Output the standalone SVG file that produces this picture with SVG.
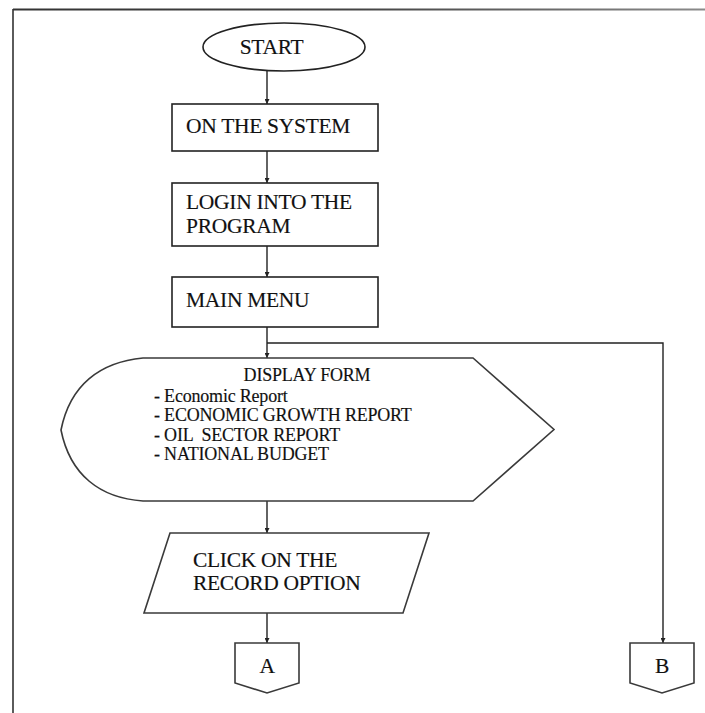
<svg xmlns="http://www.w3.org/2000/svg" width="705" height="713" viewBox="0 0 705 713">
  <style>
    .shape { fill: #fff; stroke: #222; stroke-width: 1.6; }
    .soft { fill: #fff; stroke: #3a3a3a; stroke-width: 1.6; }
    text { font-family: 'Liberation Serif', 'Times New Roman', Times, serif; fill: #111; stroke: #111; stroke-width: 0.15; }
    .lbl { font-size: 21.5px; letter-spacing: -0.3px; }
    .list { font-size: 18px; letter-spacing: -0.2px; }
    .wire { fill: none; stroke: #222; stroke-width: 1.4; }
  </style>
  <defs>
    <marker id="arrow" viewBox="0 0 10 10" refX="10" refY="5" markerWidth="5" markerHeight="5" markerUnits="userSpaceOnUse" orient="auto">
      <path d="M0,0 L10,5 L0,10 Z" fill="#222"/>
    </marker>
    <linearGradient id="frameTop" gradientUnits="userSpaceOnUse" x1="13" y1="0" x2="705" y2="0">
      <stop offset="0" stop-color="#333"/>
      <stop offset="0.5" stop-color="#444"/>
      <stop offset="1" stop-color="#8a8a8a"/>
    </linearGradient>
  </defs>

  <rect width="705" height="713" fill="#fff"/>

  <!-- page frame -->
  <g id="frame">
    <line x1="13" y1="9.5" x2="705" y2="9.5" stroke="url(#frameTop)" stroke-width="2"/>
    <line x1="13" y1="9" x2="13" y2="713" stroke="#333" stroke-width="1.6"/>
  </g>

  <!-- connectors -->
  <g id="connectors" class="wire">
    <line x1="267" y1="71" x2="267" y2="104" marker-end="url(#arrow)"/>
    <line x1="267" y1="151" x2="267" y2="183" marker-end="url(#arrow)"/>
    <line x1="267" y1="246" x2="267" y2="277" marker-end="url(#arrow)"/>
    <line x1="267" y1="327" x2="267" y2="358" marker-end="url(#arrow)"/>
    <polyline points="267,343 663,343 663,643" marker-end="url(#arrow)"/>
    <line x1="267" y1="501" x2="267" y2="533" marker-end="url(#arrow)"/>
    <line x1="267" y1="613" x2="267" y2="643" marker-end="url(#arrow)"/>
  </g>

  <g id="start">
    <ellipse class="shape" cx="284" cy="47" rx="81" ry="24"/>
    <text class="lbl" x="271.5" y="54" text-anchor="middle">START</text>
  </g>

  <g id="on-system">
    <rect class="shape" x="172" y="104" width="206" height="47"/>
    <text class="lbl" x="186" y="133">ON THE SYSTEM</text>
  </g>

  <g id="login">
    <rect class="shape" x="172" y="183" width="206" height="63"/>
    <text class="lbl" x="186" y="209">LOGIN INTO THE</text>
    <text class="lbl" x="186" y="233">PROGRAM</text>
  </g>

  <g id="main-menu">
    <rect class="shape" x="172" y="277" width="206" height="50"/>
    <text class="lbl" x="186" y="307">MAIN MENU</text>
  </g>

  <g id="display-form">
    <path class="soft" d="M143,358 L473,358 L554,429.5 L473,501 L143,501 C100,498 70,475 61,430 C70,385 100,362 143,358 Z"/>
    <text class="list" x="307" y="381" text-anchor="middle">DISPLAY FORM</text>
    <text class="list" x="154" y="402">- Economic Report</text>
    <text class="list" x="154" y="421">- ECONOMIC GROWTH REPORT</text>
    <text class="list" x="154" y="441" xml:space="preserve">- OIL  SECTOR REPORT</text>
    <text class="list" x="154" y="460">- NATIONAL BUDGET</text>
  </g>

  <g id="record-option">
    <polygon class="soft" points="170,533 429,533 403,613 144,613"/>
    <text class="lbl" x="193" y="567">CLICK ON THE</text>
    <text class="lbl" x="193" y="590">RECORD OPTION</text>
  </g>

  <g id="connector-a">
    <polygon class="soft" points="235,643 299,643 299,683 267,693 235,683"/>
    <text class="lbl" x="267" y="673" text-anchor="middle">A</text>
  </g>

  <g id="connector-b">
    <polygon class="soft" points="630,643 694,643 694,683 662,693 630,683"/>
    <text class="lbl" x="662" y="673" text-anchor="middle">B</text>
  </g>
</svg>
